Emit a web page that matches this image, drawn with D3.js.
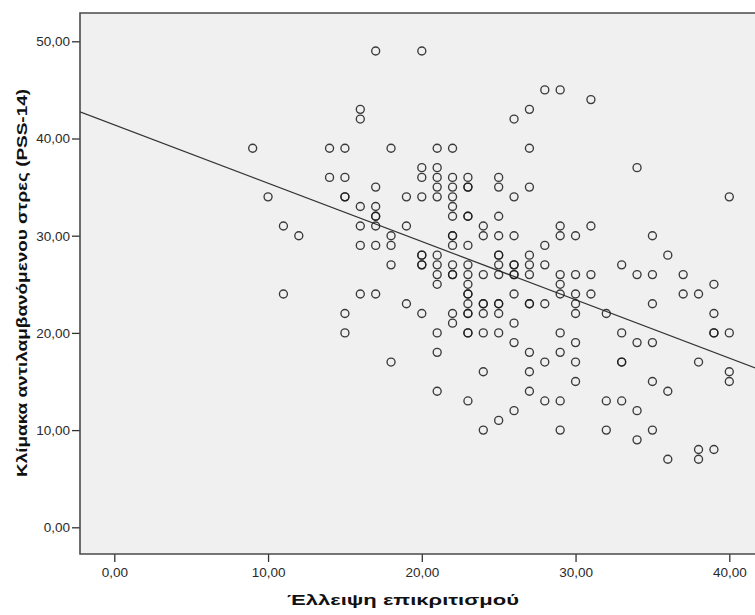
<!DOCTYPE html>
<html>
<head>
<meta charset="utf-8">
<script src="https://cdn.jsdelivr.net/npm/d3@7/dist/d3.min.js"></script>
<style>
  body { margin: 0; background: #fff; }
  text { font-family: Arial, "Liberation Sans", sans-serif; }
</style>
</head>
<body>
<svg id="chart" width="755" height="615"></svg>
<script>
// values, grouped by x (Έλλειψη επικριτισμού)
const xValues = [9, 10, 11, 12, 14, 15, 16, 17, 18, 19, 20, 21, 22, 23, 24, 25, 26, 27, 28, 29, 30, 31, 32, 33, 34, 35, 36, 37, 38, 39, 40];
const stressByX = [
  [39],
  [34],
  [31, 24],
  [30],
  [39, 36],
  [39, 36, 34, 34, 22, 20],
  [43, 42, 33, 31, 29, 24],
  [49, 35, 33, 32, 32, 31, 29, 24],
  [39, 30, 29, 27, 17],
  [34, 31, 23],
  [49, 37, 36, 34, 28, 28, 27, 27, 22],
  [39, 37, 36, 35, 34, 28, 27, 26, 25, 20, 18, 14],
  [39, 36, 35, 34, 33, 32, 30, 30, 29, 27, 26, 26, 22, 21],
  [36, 35, 35, 32, 32, 29, 27, 26, 25, 24, 24, 23, 22, 22, 20, 20, 13],
  [31, 30, 26, 23, 23, 22, 20, 16, 10],
  [36, 35, 32, 30, 28, 28, 27, 26, 23, 23, 22, 20, 11],
  [42, 34, 30, 27, 27, 26, 26, 24, 21, 19, 12],
  [43, 39, 35, 28, 27, 26, 23, 23, 18, 16, 14],
  [45, 29, 27, 23, 17, 13],
  [45, 31, 30, 26, 25, 24, 20, 18, 13, 10],
  [30, 26, 24, 23, 22, 19, 17, 15],
  [44, 31, 26, 24],
  [22, 13, 10],
  [27, 20, 17, 17, 13],
  [37, 26, 19, 12, 9],
  [30, 26, 23, 19, 15, 10],
  [28, 14, 7],
  [26, 24],
  [24, 17, 8, 7],
  [25, 22, 20, 20, 8],
  [34, 20, 16, 15]
];
const xTicks = [0, 10, 20, 30, 40];
const yTicks = [0, 10, 20, 30, 40, 50];
// fit line (linear) as shown
const fitIntercept = 41.4;
const fitSlope = -0.6;

const xLabel = "Έλλειψη επικριτισμού";
const yLabel = "Κλίμακα αντιλαμβανόμενου στρες (PSS-14)";

const points = [];
xValues.forEach((xv, i) => stressByX[i].forEach(yv => points.push([xv, yv])));

const svg = d3.select("#chart");
const plot = { left: 80, top: 13, right: 800, bottom: 554 };

const x = d3.scaleLinear().domain([0, 40]).range([114.3, 729.3]);
const y = d3.scaleLinear().domain([0, 50]).range([527.3, 41.3]);

svg.append("defs").append("clipPath").attr("id", "clip")
  .append("rect")
  .attr("x", plot.left).attr("y", plot.top)
  .attr("width", plot.right - plot.left).attr("height", plot.bottom - plot.top);

// background panel
svg.append("rect")
  .attr("x", plot.left).attr("y", plot.top)
  .attr("width", plot.right - plot.left).attr("height", plot.bottom - plot.top)
  .attr("fill", "#f0f0f0");

const fmt = d => d3.format(".2f")(d).replace(".", ",");

const xAxis = svg.append("g")
  .attr("transform", `translate(0,${plot.bottom})`)
  .call(d3.axisBottom(x).tickValues(xTicks).tickFormat(fmt).tickSize(8).tickPadding(5));
const yAxis = svg.append("g")
  .attr("transform", `translate(${plot.left},0)`)
  .call(d3.axisLeft(y).tickValues(yTicks).tickFormat(fmt).tickSize(8).tickPadding(2));

[xAxis, yAxis].forEach(g => {
  g.select(".domain").remove();
  g.selectAll(".tick line").attr("stroke", "#333").attr("stroke-width", 1.3);
  g.selectAll(".tick text")
    .attr("fill", "#2a2a2a")
    .style("font-size", "13.5px");
});

// frame: left, top, bottom (right side runs off the picture)
svg.append("path")
  .attr("d", `M${plot.right},${plot.top}H${plot.left}V${plot.bottom}H${plot.right}`)
  .attr("fill", "none")
  .attr("stroke", "#4a4a4a")
  .attr("stroke-width", 1.6);

const inner = svg.append("g").attr("clip-path", "url(#clip)");

// regression line
const x0 = x.invert(plot.left), x1 = x.invert(plot.right);
inner.append("line")
  .attr("x1", x(x0)).attr("y1", y(fitIntercept + fitSlope * x0))
  .attr("x2", x(x1)).attr("y2", y(fitIntercept + fitSlope * x1))
  .attr("stroke", "#333")
  .attr("stroke-width", 1.2);

inner.selectAll("circle.pt")
  .data(points)
  .join("circle")
  .attr("class", "pt")
  .attr("cx", d => x(d[0]))
  .attr("cy", d => y(d[1]))
  .attr("r", 4)
  .attr("fill", "none")
  .attr("stroke", "#1a1a1a")
  .attr("stroke-opacity", 0.85)
  .attr("stroke-width", 1.35);

// axis titles
svg.append("text")
  .attr("x", 403).attr("y", 605)
  .attr("text-anchor", "middle")
  .attr("textLength", 232)
  .attr("lengthAdjust", "spacingAndGlyphs")
  .style("font-size", "15px")
  .style("font-weight", "bold")
  .attr("fill", "#111")
  .text(xLabel);

svg.append("text")
  .attr("transform", "translate(27,283) rotate(-90)")
  .attr("text-anchor", "middle")
  .attr("textLength", 388)
  .attr("lengthAdjust", "spacingAndGlyphs")
  .style("font-size", "15px")
  .style("font-weight", "bold")
  .attr("fill", "#111")
  .text(yLabel);
</script>
</body>
</html>
